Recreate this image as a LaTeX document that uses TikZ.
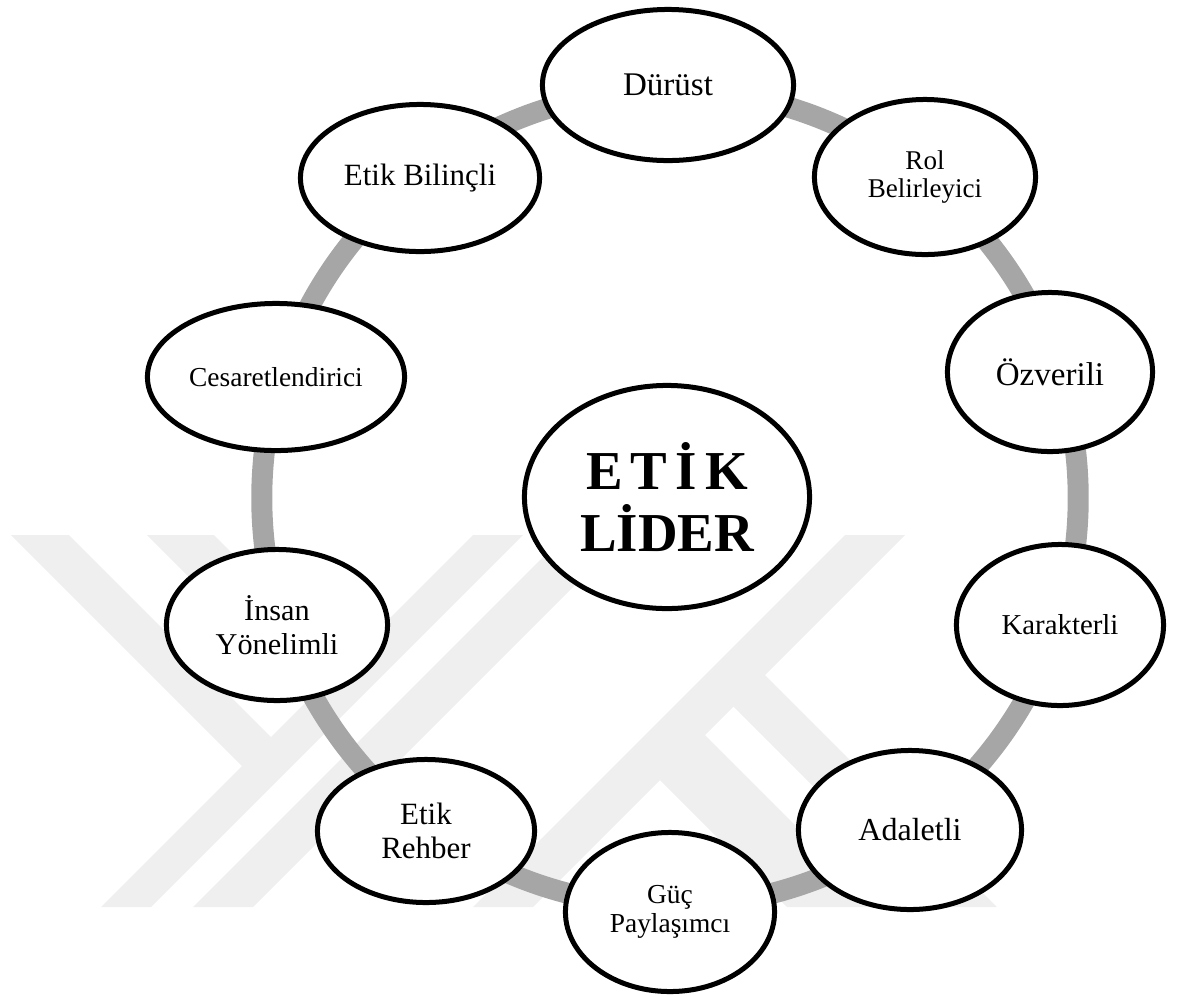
\documentclass[tikz,border=0pt]{standalone}
\usepackage{fontspec}
\setmainfont{Liberation Serif}
\usetikzlibrary{shapes.geometric}
\definecolor{ringgray}{HTML}{A6A6A6}
\definecolor{wmgray}{HTML}{EFEFEF}
\tikzset{
  trait/.style={ellipse, draw=black, line width=0.05cm, fill=white,
                inner sep=0pt, align=center},
  ringline/.style={draw=ringgray, line width=0.21cm},
  wmband/.style={fill=wmgray, draw=none}
}
\newcommand{\fs}[2]{\fontsize{#1}{#2}\selectfont}
\begin{document}
\begin{tikzpicture}[x=0.01cm,y=-0.01cm]
\useasboundingbox (0,0) rectangle (1193,996);

% faint background emblem made of diagonal bands
\fill[wmband] (11,535) -- (69,535) -- (283.5,749.5) -- (254.5,778.5) -- cycle;
\fill[wmband] (147,535) -- (214,535) -- (356,677) -- (322.5,710.5) -- cycle;
\fill[wmband] (473,535) -- (523,535) -- (151,907) -- (101,907) -- cycle;
\fill[wmband] (565,535) -- (625,535) -- (253,907) -- (193,907) -- cycle;
\fill[wmband] (845,535) -- (905,535) -- (533,907) -- (473,907) -- cycle;
\fill[wmband] (645,765) -- (690,720) -- (877,907) -- (787,907) -- cycle;
\fill[wmband] (718.5,691.5) -- (750,660) -- (997,907) -- (934,907) -- cycle;

% ring linking the traits
\coordinate (ringc) at (670,498);
\draw[ringline] (ringc) circle [radius=4.08cm];

% centre
\node[trait, minimum width=2.85cm, minimum height=2.23cm,
      font=\fs{15.6}{17.6}\bfseries] (lider) at (667,497)
      {E\kern2.3pt T\kern2.3pt İ\kern2.3pt K\\LİDER};

% traits around the ring
\node[trait, minimum width=2.51cm, minimum height=1.51cm, font=\fs{9.4}{11}]
      (durust) at (668,85) {Dürüst};
\node[trait, minimum width=2.21cm, minimum height=1.55cm, font=\fs{7.7}{8}]
      (rol) at (925,177) {Rol\\Belirleyici};
\node[trait, minimum width=2.05cm, minimum height=1.59cm, font=\fs{9.4}{11}]
      (ozverili) at (1050,372) {Özverili};
\node[trait, minimum width=2.07cm, minimum height=1.61cm, font=\fs{8.2}{10}]
      (karakterli) at (1060,625) {Karakterli};
\node[trait, minimum width=2.23cm, minimum height=1.59cm, font=\fs{9.1}{11}]
      (adaletli) at (910,830) {Adaletli};
\node[trait, minimum width=2.09cm, minimum height=1.59cm, font=\fs{7.8}{8.2}]
      (guc) at (670,912) {Güç\\Paylaşımcı};
\node[trait, minimum width=2.17cm, minimum height=1.43cm, font=\fs{8.8}{9.7}]
      (rehber) at (426,831) {Etik\\Rehber};
\node[trait, minimum width=2.21cm, minimum height=1.51cm, font=\fs{8.6}{9.7}]
      (insan) at (277,625) {İnsan\\Yönelimli};
\node[trait, minimum width=2.57cm, minimum height=1.47cm, font=\fs{7.8}{9}]
      (cesaret) at (276,377) {Cesaretlendirici};
\node[trait, minimum width=2.39cm, minimum height=1.47cm, font=\fs{8.8}{10}]
      (bilincli) at (420,178) {Etik Bilinçli};
\end{tikzpicture}
\end{document}
